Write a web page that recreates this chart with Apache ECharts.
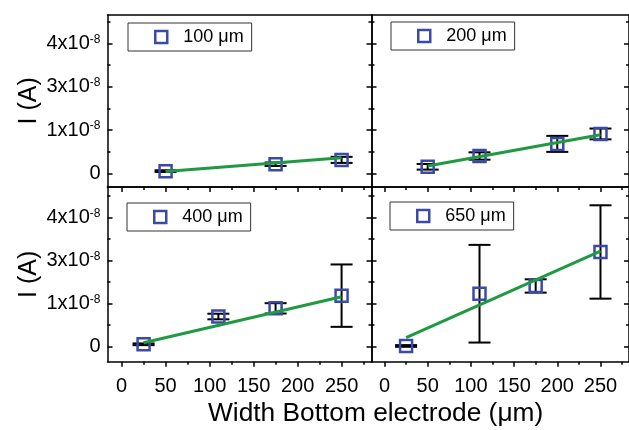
<!DOCTYPE html>
<html><head><meta charset="utf-8">
<script src="https://cdn.jsdelivr.net/npm/echarts@6/dist/echarts.min.js"></script>
<style>html,body{margin:0;padding:0;background:#fff}#c{width:629px;height:430px}</style>
</head><body><div id="c"></div>
<script>
// ---- tick values / labels ----
const xTicks = [0, 50, 100, 150, 200, 250];
const xMinorTicks = [25, 75, 125, 175, 225, 275];
const yTicks = [0, 1, 2, 3];
const yMinorTicks = [0.5, 1.5, 2.5, 3.5];
const yTickMantissa = ['0', '1x10', '3x10', '4x10'];
const yTickExponent = ['', '-8', '-8', '-8'];
const xTitle = 'Width Bottom electrode (\u03bcm)';
const yTitle = 'I (A)';

// ---- data (y in axis tick units) ----
const seriesNames = ['100 \u03bcm', '200 \u03bcm', '400 \u03bcm', '650 \u03bcm'];
const width100 = [50, 175, 250];
const current100 = [0.05, 0.21, 0.31];
const error100 = [0.02, 0.04, 0.07];
const fit100X = [50, 250];
const fit100Y = [0.04, 0.36];

const width200 = [50, 110, 200, 250];
const current200 = [0.15, 0.40, 0.68, 0.91];
const error200 = [0.065, 0.085, 0.185, 0.125];
const fit200X = [50, 250];
const fit200Y = [0.17, 0.89];

const width400 = [25, 110, 175, 250];
const current400 = [0.055, 0.70, 0.89, 1.185];
const error400 = [0.02, 0.065, 0.12, 0.725];
const fit400X = [25, 250];
const fit400Y = [0.09, 1.16];

const width650 = [25, 110, 175, 250];
const current650 = [0.016, 1.23, 1.41, 2.20];
const error650 = [0.02, 1.135, 0.155, 1.085];
const fit650X = [25, 250];
const fit650Y = [0.21, 2.22];

const panels = [
  {w: width100, c: current100, e: error100, fx: fit100X, fy: fit100Y},
  {w: width200, c: current200, e: error200, fx: fit200X, fy: fit200Y},
  {w: width400, c: current400, e: error400, fx: fit400X, fy: fit400Y},
  {w: width650, c: current650, e: error650, fx: fit650X, fy: fit650Y}
];

// ---- layout / style ----
const FONT = 'Liberation Sans, Arial, Helvetica, sans-serif';
const BLUE = '#3b4aa6';
const GREEN = '#1f9a43';
const grids = [
  {left: 107.5, top: 15, width: 264, height: 171.7},
  {left: 371.5, top: 15, width: 262, height: 171.7},
  {left: 107.5, top: 187, width: 264, height: 174.7},
  {left: 371.5, top: 187, width: 262, height: 174.7}
];
const xRanges = [[-16, 284], [-15, 283], [-16, 284], [-15, 283]];
const yRanges = [[-0.31, 3.66], [-0.31, 3.66], [-0.35, 3.71], [-0.35, 3.71]];
const legendPos = [[128, 23], [391, 22], [127, 203], [390, 202]];

const xAxes = [], yAxes = [], series = [], legends = [];
const axisLine = {show: true, onZero: false, lineStyle: {color: '#000', width: 1.5}};
const noLine = {show: false, onZero: false};

function yFormatter(v) {
  const i = yTicks.indexOf(Math.round(v * 100) / 100);
  if (i < 0) return '';
  return yTickExponent[i] ? '{m|' + yTickMantissa[i] + '}{e|' + yTickExponent[i] + '}' : '{m|' + yTickMantissa[i] + '}';
}

panels.forEach((p, g) => {
  const isBottom = g >= 2, isLeft = g % 2 === 0;
  const base = {gridIndex: g, type: 'value', min: xRanges[g][0], max: xRanges[g][1], splitLine: {show: false}};
  const xMain = xAxes.length;
  xAxes.push(Object.assign({}, base, {position: 'bottom', axisLine: axisLine,
    axisTick: {show: true, inside: false, length: 5, customValues: xTicks, lineStyle: {color: '#000', width: 1.5}},
    axisLabel: {show: isBottom, customValues: xTicks, fontSize: 20, color: '#000', fontFamily: FONT, margin: 15}}));
  xAxes.push(Object.assign({}, base, {position: 'bottom', axisLine: noLine,
    axisTick: {show: true, inside: false, length: 3, customValues: xMinorTicks, lineStyle: {color: '#000', width: 1.5}},
    axisLabel: {show: false}}));
  xAxes.push(Object.assign({}, base, {position: 'top', axisLine: axisLine,
    axisTick: {show: isBottom, inside: true, length: 5, customValues: xTicks, lineStyle: {color: '#000', width: 1.5}},
    axisLabel: {show: false}}));
  xAxes.push(Object.assign({}, base, {position: 'top', axisLine: noLine,
    axisTick: {show: isBottom, inside: true, length: 3, customValues: xMinorTicks, lineStyle: {color: '#000', width: 1.5}},
    axisLabel: {show: false}}));

  const ybase = {gridIndex: g, type: 'value', min: yRanges[g][0], max: yRanges[g][1], splitLine: {show: false}};
  const yMain = yAxes.length;
  yAxes.push(Object.assign({}, ybase, {position: 'left', axisLine: axisLine,
    axisTick: {show: true, inside: true, length: 5, customValues: yTicks, lineStyle: {color: '#000', width: 1.5}},
    axisLabel: {show: isLeft, customValues: yTicks, margin: 7, formatter: yFormatter, align: 'right',
      rich: {m: {fontSize: 20, color: '#000', fontFamily: FONT}, e: {fontSize: 12, color: '#000', fontFamily: FONT, verticalAlign: 'top'}}},
    name: isLeft ? yTitle : '', nameLocation: 'middle', nameGap: 66,
    nameTextStyle: {fontSize: 25, color: '#000', fontFamily: FONT}}));
  yAxes.push(Object.assign({}, ybase, {position: 'left', axisLine: noLine,
    axisTick: {show: true, inside: true, length: 3, customValues: yMinorTicks, lineStyle: {color: '#000', width: 1.5}},
    axisLabel: {show: false}}));
  yAxes.push(Object.assign({}, ybase, {position: 'right', axisLine: axisLine,
    axisTick: {show: true, inside: true, length: 5, customValues: yTicks, lineStyle: {color: '#000', width: 1.5}},
    axisLabel: {show: false}}));
  yAxes.push(Object.assign({}, ybase, {position: 'right', axisLine: noLine,
    axisTick: {show: true, inside: true, length: 3, customValues: yMinorTicks, lineStyle: {color: '#000', width: 1.5}},
    axisLabel: {show: false}}));

  series.push({
    type: 'custom', name: 'err' + g, xAxisIndex: xMain, yAxisIndex: yMain, z: 2,
    encode: {x: 0, y: 1},
    data: p.w.map((x, i) => [x, p.c[i], p.e[i]]),
    renderItem: function (params, api) {
      const x = api.value(0), y = api.value(1), e = api.value(2);
      const t = api.coord([x, y + e]), b = api.coord([x, y - e]);
      const w = 11, st = {stroke: '#000', lineWidth: 2};
      return {type: 'group', children: [
        {type: 'line', shape: {x1: t[0], y1: t[1], x2: b[0], y2: b[1]}, style: st},
        {type: 'line', shape: {x1: t[0] - w, y1: t[1], x2: t[0] + w, y2: t[1]}, style: st},
        {type: 'line', shape: {x1: b[0] - w, y1: b[1], x2: b[0] + w, y2: b[1]}, style: st}
      ]};
    }
  });
  series.push({
    type: 'scatter', name: seriesNames[g], xAxisIndex: xMain, yAxisIndex: yMain, z: 3,
    symbol: 'rect', symbolSize: 12,
    itemStyle: {color: 'rgba(255,255,255,0)', borderColor: BLUE, borderWidth: 2.5, opacity: 1},
    data: p.w.map((x, i) => [x, p.c[i]])
  });
  series.push({
    type: 'line', name: 'fit' + g, xAxisIndex: xMain, yAxisIndex: yMain, z: 4,
    showSymbol: false, symbol: 'none',
    lineStyle: {color: GREEN, width: 3},
    data: p.fx.map((x, i) => [x, p.fy[i]])
  });
  legends.push({
    data: [{name: seriesNames[g], icon: 'rect'}], left: legendPos[g][0], top: legendPos[g][1],
    orient: 'horizontal', borderColor: '#333', borderWidth: 1, padding: [5, 8, 5, 26],
    itemWidth: 12, itemHeight: 12, selectedMode: false,
    itemStyle: {color: 'rgba(255,255,255,0)', borderColor: BLUE, borderWidth: 2.5},
    textStyle: {fontSize: 18, color: '#000', fontFamily: FONT, padding: [0, 0, 0, 11]}
  });
});

const chart = echarts.init(document.getElementById('c'), null, {renderer: 'canvas'});
chart.setOption({
  backgroundColor: '#fff',
  animation: false,
  grid: grids,
  xAxis: xAxes,
  yAxis: yAxes,
  legend: legends,
  series: series,
  graphic: [{
    type: 'text', left: 208, top: 401,
    style: {text: xTitle, fontSize: 26.3, fontFamily: FONT, fill: '#000'}
  }]
});
</script>
</body></html>
